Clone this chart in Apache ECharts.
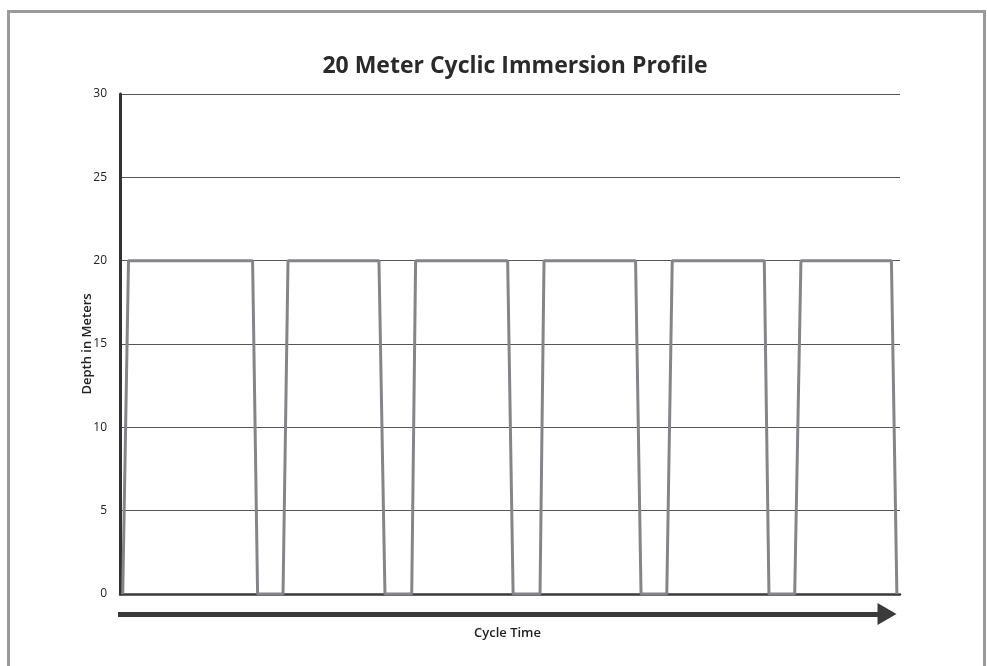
<!DOCTYPE html>
<html>
<head>
<meta charset="utf-8">
<script src="https://cdn.jsdelivr.net/npm/echarts@6/dist/echarts.min.js"></script>
<style>
  html, body { margin: 0; padding: 0; background: #fff; }
  #frame { position: absolute; left: 7px; top: 10px; width: 979px; height: 700px;
           border: 3px solid #9a9a9a; border-bottom: none; box-sizing: border-box; }
  #chart { position: absolute; left: 0; top: 0; width: 987px; height: 666px; }
</style>
</head>
<body>
<div id="frame"></div>
<div id="chart"></div>
<script>
// Cycle time (arbitrary units, 0–100 across the axis) and depth in meters
const timeValues = [0.35, 1.09, 17.0, 17.64, 20.9, 21.54, 33.2, 33.97, 37.4, 37.9, 49.7, 50.4,
                    53.85, 54.36, 66.1, 66.8, 70.1, 70.8, 82.6, 83.2, 86.5, 87.3, 98.9, 99.6];
const depthValues = [0, 20, 20, 0, 0, 20, 20, 0, 0, 20, 20, 0,
                     0, 20, 20, 0, 0, 20, 20, 0, 0, 20, 20, 0];
const yTicks = [0, 5, 10, 15, 20, 25, 30];

const titleText = '20 Meter Cyclic Immersion Profile';
const yName = 'Depth in Meters';
const xName = 'Cycle Time';

const seriesData = timeValues.map((t, i) => [t, depthValues[i]]);
const font = '"Open Sans", "Liberation Sans", sans-serif';

const chart = echarts.init(document.getElementById('chart'), null, { renderer: 'canvas' });
chart.setOption({
  animation: false,
  backgroundColor: 'transparent',
  title: {
    text: titleText,
    left: 510, top: 50, textAlign: 'center',
    textStyle: { fontFamily: font, fontWeight: 'bold', fontSize: 23, color: '#2a2a2a' }
  },
  grid: [
    { left: 120, right: 87, top: 94, bottom: 72 },
    { left: 118, right: 100, top: 94, bottom: 72 }
  ],
  xAxis: [
    {
      type: 'value', min: 0, max: 100, position: 'bottom', gridIndex: 0,
      axisLine: { show: true, onZero: false, lineStyle: { color: '#3a3a3a', width: 2.5 } },
      axisTick: { show: false }, axisLabel: { show: false }, splitLine: { show: false }
    },
    {
      type: 'value', min: 0, max: 100, position: 'bottom', offset: 20, gridIndex: 1,
      name: xName, nameLocation: 'middle', nameGap: 13,
      nameTextStyle: { fontFamily: font, fontWeight: 600, fontSize: 13, color: '#222', padding: [0, 0, 0, 10] },
      axisLine: {
        show: true, onZero: false, symbol: ['none', 'triangle'], symbolSize: [22, 19], symbolOffset: [0, 0],
        lineStyle: { color: '#3a3a3a', width: 5, cap: 'butt' }
      },
      axisTick: { show: false }, axisLabel: { show: false }, splitLine: { show: false }
    }
  ],
  yAxis: [
    {
      type: 'value', min: yTicks[0], max: yTicks[yTicks.length - 1], interval: 5, gridIndex: 0,
      name: yName, nameLocation: 'middle', nameGap: 26, nameRotate: 90, nameMoveOverlap: false,
      nameTextStyle: { fontFamily: font, fontWeight: 600, fontSize: 13, color: '#222' },
      axisLine: { show: true, onZero: false, lineStyle: { color: '#333', width: 3 } },
      axisTick: { show: false },
      axisLabel: { fontFamily: font, fontSize: 12, color: '#222', margin: 13 },
      splitLine: { show: true, lineStyle: { color: '#555', width: 1 } }
    },
    {
      type: 'value', min: 0, max: 30, gridIndex: 1, show: false
    }
  ],
  series: [{
    type: 'line', xAxisIndex: 0, yAxisIndex: 0, data: seriesData, showSymbol: false, symbol: 'none',
    lineStyle: { color: '#858589', width: 3 }, z: 5
  }]
});
</script>
</body>
</html>
